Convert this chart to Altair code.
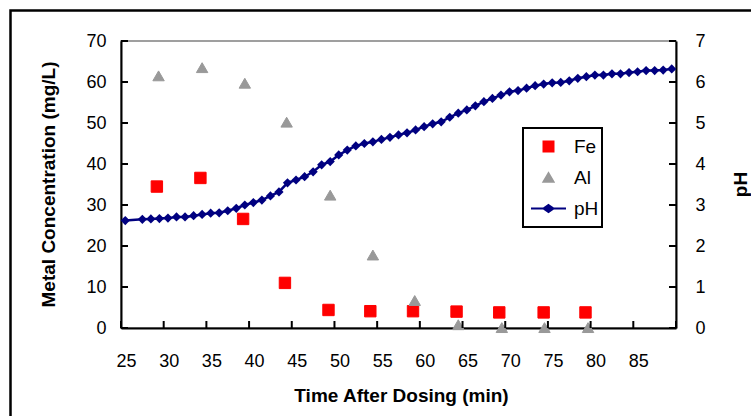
import altair as alt
import pandas as pd

# ---------------- data ----------------
series = ["Fe", "Al", "pH"]

fe_time = [29.2, 34.3, 39.3, 44.2, 49.3, 54.2, 59.2, 64.3, 69.3, 74.5, 79.4]
fe_conc = [34.5, 36.6, 26.6, 11.0, 4.4, 4.1, 4.1, 4.0, 3.8, 3.8, 3.8]

al_time = [29.4, 34.5, 39.5, 44.4, 49.5, 54.5, 59.4, 64.5, 69.6, 74.6, 79.7]
al_conc = [61.5, 63.5, 59.7, 50.2, 32.4, 17.8, 6.7, 0.8, 0.1, 0.1, 0.1]

ph_time = [25.5, 27.5, 28.5, 29.5, 30.5, 31.5, 32.5, 33.5, 34.5, 35.5, 36.5,
           37.5, 38.5, 39.5, 40.5, 41.5, 42.5, 43.5, 44.5, 45.5, 46.5, 47.5,
           48.5, 49.5, 50.5, 51.5, 52.5, 53.5, 54.5, 55.5, 56.5, 57.5, 58.5,
           59.5, 60.5, 61.5, 62.5, 63.5, 64.5, 65.5, 66.5, 67.5, 68.5, 69.5,
           70.5, 71.5, 72.5, 73.5, 74.5, 75.5, 76.5, 77.5, 78.5, 79.5, 80.5,
           81.5, 82.5, 83.5, 84.5, 85.5, 86.5, 87.5, 88.5, 89.5]
ph_value = [2.62, 2.65, 2.66, 2.67, 2.68, 2.71, 2.71, 2.74, 2.77, 2.80, 2.81,
            2.86, 2.92, 3.00, 3.06, 3.12, 3.22, 3.32, 3.54, 3.61, 3.69, 3.81,
            3.98, 4.06, 4.22, 4.34, 4.44, 4.50, 4.54, 4.60, 4.65, 4.71, 4.76,
            4.83, 4.91, 4.98, 5.03, 5.14, 5.24, 5.32, 5.42, 5.52, 5.60, 5.68,
            5.76, 5.79, 5.85, 5.91, 5.95, 5.98, 5.99, 6.03, 6.09, 6.13, 6.17,
            6.17, 6.20, 6.20, 6.23, 6.25, 6.28, 6.28, 6.29, 6.32]

x_labels = [25, 30, 35, 40, 45, 50, 55, 60, 65, 70, 75, 80, 85]
x_ticks = [25, 30, 35, 40, 45, 50, 55, 60, 65, 70, 75, 80, 85, 90]
metal_ticks = [0, 10, 20, 30, 40, 50, 60, 70]
ph_ticks = [0, 1, 2, 3, 4, 5, 6, 7]

# ---------------- tables ----------------
metal_df = pd.DataFrame({
    "time": fe_time + al_time,
    "value": fe_conc + al_conc,
    "series": ["Fe"] * len(fe_time) + ["Al"] * len(al_time),
})
ph_df = pd.DataFrame({"time": ph_time, "pH": ph_value})
xt_df = pd.DataFrame({"tick": x_ticks})
mt_df = pd.DataFrame({"tick": metal_ticks})
pt_df = pd.DataFrame({"tick": ph_ticks})

FONT = "Liberation Sans"
NAVY = "#000080"
PH_PATH = "M-3.5,0L3.5,0M0,-0.7L1,0L0,0.7L-1,0Z"

xs = alt.Scale(domain=[25, 90], nice=False, zero=False)
ys_m = alt.Scale(domain=[0, 70], nice=False)
ys_p = alt.Scale(domain=[0, 7], nice=False)

x_axis = alt.Axis(
    title="Time After Dosing (min)", values=x_labels, ticks=False, grid=False,
    domainColor="black", domainWidth=2, labelFontSize=18, labelPadding=24,
    labelOffset=5, labelFlush=False, titleFontSize=19, titleFontWeight="bold",
    titleX=280, titleY=67, titleAlign="center", titleBaseline="middle",
)
y_axis_left = alt.Axis(
    title="Metal Concentration (mg/L)", orient="left", values=metal_ticks,
    ticks=False, grid=False, domainColor="black", domainWidth=2,
    labelFontSize=18, labelPadding=15, titleFontSize=19, titleFontWeight="bold",
    titleAngle=270, titleX=-73, titleY=143, titleAlign="center",
    titleBaseline="middle",
)
y_axis_right = alt.Axis(
    title="pH", orient="right", values=ph_ticks, ticks=False, grid=False,
    domainColor="black", domainWidth=2, labelFontSize=18, labelPadding=19,
    titleFontSize=19, titleFontWeight="bold", titleAngle=270, titleX=64,
    titleY=143, titleAlign="center", titleBaseline="middle",
)

sc_color = alt.Scale(domain=series, range=["#FF0000", "#999999", NAVY])
sc_shape = alt.Scale(domain=series, range=["square", "triangle-up", PH_PATH])

legend = alt.Legend(
    title=None, orient="none", legendX=402, legendY=87, padding=3,
    symbolOffset=13, labelOffset=16, clipHeight=31, rowPadding=0,
    strokeColor="black", fillColor="white", labelFontSize=19,
    symbolSize=100, symbolStrokeWidth=2,
)

border = alt.Chart(pd.DataFrame({"a": [0]})).mark_rect(
    fillOpacity=0, stroke="black", strokeWidth=2.5
).encode(
    x=alt.value(-110.5), x2=alt.value(720), y=alt.value(-30.5), y2=alt.value(460)
)

points = alt.Chart(metal_df).mark_point(
    filled=True, size=130, strokeWidth=1, opacity=1
).encode(
    x=alt.X("time:Q", scale=xs, axis=x_axis),
    y=alt.Y("value:Q", scale=ys_m, axis=y_axis_left),
    color=alt.Color("series:N", scale=sc_color, legend=legend),
    shape=alt.Shape("series:N", scale=sc_shape, legend=legend),
    stroke=alt.Stroke("series:N", scale=sc_color, legend=legend),
)

bottom_ticks = alt.Chart(xt_df).mark_rule(
    color="black", strokeWidth=2, y2Offset=-7
).encode(
    x=alt.X("tick:Q", scale=xs, axis=x_axis),
    y=alt.YDatum(0, scale=ys_m, axis=y_axis_left),
    y2=alt.Y2Datum(0),
)

left_ticks = alt.Chart(mt_df).mark_rule(
    color="black", strokeWidth=2, x2Offset=7
).encode(
    x=alt.XDatum(25, scale=xs, axis=x_axis),
    x2=alt.X2Datum(25),
    y=alt.Y("tick:Q", scale=ys_m, axis=y_axis_left),
)

ph_line = alt.Chart(ph_df).mark_line(
    color=NAVY, strokeWidth=2.5,
    point=alt.OverlayMarkDef(filled=True, shape="diamond", size=85, color=NAVY),
).encode(
    x=alt.X("time:Q", scale=xs, axis=x_axis),
    y=alt.Y("pH:Q", scale=ys_p, axis=y_axis_right),
)

right_ticks = alt.Chart(pt_df).mark_rule(
    color="black", strokeWidth=2, x2Offset=-7
).encode(
    x=alt.XDatum(90, scale=xs, axis=x_axis),
    x2=alt.X2Datum(90),
    y=alt.Y("tick:Q", scale=ys_p, axis=y_axis_right),
)

left = alt.layer(border, points, bottom_ticks, left_ticks)
right = alt.layer(ph_line, right_ticks)

chart = alt.layer(left, right).resolve_scale(y="independent").properties(
    width=555, height=287,
    padding={"left": 121, "top": 41, "right": 75, "bottom": 88},
    autosize=alt.AutoSizeParams(type="none"),
    background="white",
).configure_view(
    stroke="#808080", strokeWidth=1.5
).configure_axis(
    labelFont=FONT, titleFont=FONT, labelColor="black", titleColor="black"
).configure_legend(
    labelFont=FONT, labelColor="black", strokeWidth=2
)

chart.save("out.html", embed_options={"renderer": "svg", "actions": False})
